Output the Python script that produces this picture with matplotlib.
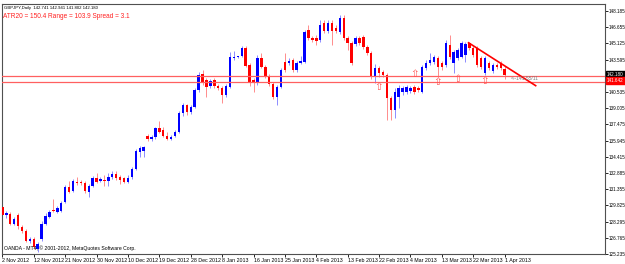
import matplotlib
matplotlib.use("Agg")
import matplotlib.pyplot as plt
import numpy as np

plt.rcParams['font.family'] = ['Liberation Sans', 'DejaVu Sans']

# ---- data (GBPJPY daily, OHLC) ----
opens = [129.65,128.90,129.00,128.05,128.90,127.77,127.40,126.46,126.64,125.70,
         126.64,128.05,128.71,129.37,129.18,129.28,130.12,131.54,131.16,132.01,
         132.01,131.91,131.06,131.63,132.38,132.10,132.19,132.10,132.48,132.76,
         132.48,132.38,132.01,132.48,133.23,134.83,134.92,136.33,136.05,136.24,
         137.09,136.90,136.33,136.05,136.33,136.71,138.59,139.34,138.68,139.16,
         140.75,142.26,141.69,141.13,141.69,141.13,140.94,140.28,141.04,143.76,
         143.86,143.95,144.70,143.11,141.69,141.41,143.76,142.92,142.07,141.32,
         140.10,141.04,143.39,143.29,143.58,142.64,143.29,143.39,146.40,145.65,
         145.65,145.46,147.06,146.30,147.06,146.59,146.21,147.53,145.65,145.18,
         145.08,145.65,145.74,144.80,144.23,141.98,142.82,142.45,142.17,140.00,
         138.87,140.10,140.57,140.57,140.66,141.04,140.94,140.57,142.82,143.29,
         143.39,143.76,143.29,143.11,144.99,143.29,143.76,143.86,144.05,145.18,
         144.70,144.70,143.76,142.35,143.29,142.54,143.11,143.29,142.741]
highs = [129.94,129.28,129.18,128.71,129.09,127.96,127.58,126.83,126.83,126.36,
         128.34,129.09,129.37,130.41,129.75,130.22,131.72,132.10,132.29,132.48,
         132.19,132.10,131.82,132.57,132.85,132.48,132.66,132.85,133.04,133.04,
         132.66,132.48,132.66,133.42,135.11,135.39,135.39,136.52,136.43,137.27,
         137.84,137.18,136.71,136.43,136.90,138.78,139.53,139.44,139.34,140.94,
         142.45,142.64,141.88,141.79,141.88,141.32,141.13,141.32,144.33,144.42,
         143.95,144.89,144.89,143.29,141.88,144.05,144.23,143.11,142.26,141.51,
         141.22,142.82,144.23,143.76,143.76,143.48,143.95,146.40,146.87,145.83,
         145.93,147.34,147.34,147.34,147.34,146.87,147.81,147.81,145.83,145.36,
         145.83,145.83,145.93,144.99,144.42,143.20,143.01,142.64,142.35,140.19,
         140.94,141.22,141.13,141.22,141.13,141.22,141.13,143.11,143.58,144.23,
         144.05,143.95,143.48,145.46,145.93,144.52,144.70,145.36,145.27,145.27,
         144.89,144.89,143.95,143.95,143.48,143.29,143.29,143.48,142.941]
lows = [128.71,128.62,127.96,127.96,127.58,127.21,126.36,126.27,125.70,125.42,
        126.46,127.96,128.62,129.18,129.09,129.18,130.03,130.97,131.06,131.72,
        131.72,130.97,130.59,131.54,131.91,132.01,131.63,131.63,132.29,132.19,
        131.82,131.91,131.91,132.29,133.13,134.36,134.36,135.86,135.86,136.14,
        136.62,136.24,135.96,135.96,136.24,136.62,138.31,138.40,138.50,139.06,
        140.57,141.22,140.10,140.94,140.94,140.75,139.53,140.10,140.94,143.58,
        143.76,143.86,142.92,141.13,140.57,141.22,142.82,141.88,141.13,139.91,
        139.34,140.94,142.45,143.11,142.45,142.45,143.20,143.29,145.46,145.27,
        144.99,145.27,146.12,146.12,144.99,146.12,146.02,145.46,144.52,143.11,
        144.89,144.99,144.61,144.05,141.79,141.41,141.98,141.98,137.93,137.93,
        138.12,139.06,140.28,140.38,140.47,140.38,140.57,140.47,142.64,143.11,
        143.20,141.98,142.64,142.92,143.67,142.35,143.58,143.76,143.39,144.52,
        143.86,142.92,142.73,142.17,142.64,142.35,142.73,142.64,141.802]
closes = [128.90,129.09,128.05,128.53,127.87,127.40,126.46,126.64,125.89,126.17,
          128.05,128.81,129.18,129.28,129.56,130.03,131.54,131.06,132.10,131.91,
          131.91,131.16,131.63,132.38,132.01,132.29,132.10,132.48,132.76,132.38,
          132.19,132.01,132.38,133.23,134.92,135.20,135.30,136.05,136.24,137.09,
          136.80,136.33,136.05,136.24,136.71,138.59,139.34,138.68,139.16,140.75,
          142.17,141.41,141.04,141.60,141.13,140.94,140.28,141.13,143.86,143.86,
          143.88,144.70,143.01,141.41,141.41,143.76,142.92,142.07,141.32,140.10,
          141.04,142.64,142.64,143.48,142.64,143.29,143.48,146.21,145.65,145.46,
          145.36,146.87,146.30,147.06,146.30,146.30,147.53,145.65,145.18,143.29,
          145.65,145.18,144.80,144.23,141.98,142.82,142.35,142.17,140.00,138.87,
          140.57,140.94,140.94,141.04,140.94,140.57,140.75,142.92,143.29,143.58,
          143.86,142.92,142.92,145.18,143.86,144.33,144.52,145.18,145.08,144.70,
          144.05,143.11,142.92,143.76,142.82,143.11,142.92,142.82,142.180]

date_labels = ["2 Nov 2012", "12 Nov 2012", "21 Nov 2012", "30 Nov 2012",
               "10 Dec 2012", "19 Dec 2012", "28 Dec 2012", "8 Jan 2013",
               "16 Jan 2013", "25 Jan 2013", "4 Feb 2013", "13 Feb 2013",
               "22 Feb 2013", "4 Mar 2013", "13 Mar 2013", "22 Mar 2013",
               "1 Apr 2013"]
price_ticks = [148.185, 146.655, 145.125, 143.595, 140.535, 139.005, 137.475,
               135.945, 134.415, 132.885, 131.355, 129.825, 128.295, 126.765,
               125.235]
level_lines = [142.07, 141.50]
trend_bars = [118.8, 135.9]
trend_prices = [145.18, 141.13]
arrow_bars = [96, 105, 111, 116, 123]
arrow_prices = [141.04, 142.26, 141.51, 141.79, 141.60]
bid_price = 142.180
level_tag = 141.642

# ---- figure ----
W, H = 625, 264
fig = plt.figure(figsize=(W / 100, H / 100), dpi=100)
AXW = 603
ax = fig.add_axes([2 / W, 10 / H, AXW / W, 250 / H])
YLO, YHI = 125.33, 148.84

n = len(opens)
idx = np.arange(n)
o = np.array(opens); c = np.array(closes)
h = np.array(highs); l = np.array(lows)
bull = c > o
bear = c < o
doji = ~(bull | bear)

body_col = np.where(bull, '#0000ff', '#ff0000')
wick_col = np.where(bull, '#8c8cff', '#ff8c8c')

ax.vlines(idx, l, h, colors=wick_col, lw=0.7, zorder=2)
hgt = np.maximum(np.abs(c - o), 0.04)
ax.bar(idx, hgt, bottom=np.minimum(o, c), width=0.62, color=body_col,
       linewidth=0, zorder=3)
if doji.any():
    ax.hlines(o[doji], idx[doji] - 0.35, idx[doji] + 0.35, colors='#00b000',
              lw=0.8, zorder=3)

for lv in level_lines:
    ax.axhline(lv, color='#ff6060', lw=0.9, zorder=4)

ax.plot(trend_bars, trend_prices, color='#ff0000', lw=1.2, zorder=4)
ax.text(129.5, 141.85, "<--141.55/11", fontsize=3.6, color='#808080',
        va='center', ha='left', zorder=5)

for xb, yp in zip(arrow_bars, arrow_prices):
    ax.text(xb, yp, "\u21e7", fontsize=7.5, color='#ff5050', ha='center',
            va='center', family='DejaVu Sans', zorder=5)

x0 = -0.1
ax.set_xlim(x0, x0 + AXW / 3.924)
ax.set_ylim(YLO, YHI)

ax.yaxis.tick_right()
ax.set_yticks(price_ticks)
ax.set_yticklabels([f"{v:.3f}" for v in price_ticks])
ax.tick_params(axis='y', length=2, width=0.6, pad=0.5, labelsize=3.3,
               colors='black')
ax.set_xticks(np.arange(len(date_labels)) * 8)
ax.set_xticklabels(date_labels)
for t in ax.get_xticklabels():
    t.set_ha('left')
ax.tick_params(axis='x', length=2, width=0.6, pad=1, labelsize=3.8)

for s in ax.spines.values():
    s.set_color('#505050')
    s.set_linewidth(0.8)

# price tags
for val, col in ((bid_price, 'black'), (level_tag, '#ff0000')):
    ax.text(1.003, (val - YLO) / (YHI - YLO), f"{val:.3f}",
            transform=ax.transAxes, fontsize=3.3, color='white', va='center',
            ha='left', clip_on=False, zorder=10,
            bbox=dict(boxstyle='square,pad=0.25', fc=col, ec=col))

# header and footer texts
ax.text(0.004, 0.99, "GBPJPY,Daily  142.741 142.941 141.802 142.180",
        transform=ax.transAxes, fontsize=3.1, color='black', va='top',
        ha='left')
ax.text(0.002, 0.965, "ATR20 = 150.4 Range = 103.9 Spread = 3.1",
        transform=ax.transAxes, fontsize=4.7, color='#ff2020', va='top',
        ha='left')
ax.text(0.004, 0.012, "OANDA - MT4, \u00a9 2001-2012, MetaQuotes Software Corp.",
        transform=ax.transAxes, fontsize=3.7, color='black', va='bottom',
        ha='left')

fig.savefig("out.png", dpi=100, facecolor='white')
